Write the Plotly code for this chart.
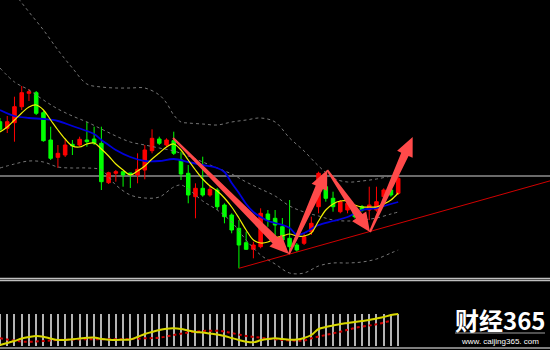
import math
import plotly.graph_objects as go

# ---------------- data (x = candle index, y = price units) ----------------
candle_idx = list(range(56))
open_ = [178.3, 171.7, 177.3, 193.3, 206.7, 207.3, 187.3, 160, 142.7, 145, 155.7, 155, 160, 161,
         156.7, 117.3, 126.7, 128.3, 127, 125, 130, 149.3, 161, 155, 159.3, 140, 126.7, 103.3,
         111.7, 105, 110, 95, 85, 71.7, 57.3, 50.7, 53.3, 86, 81.7, 73.3, 61.7, 55, 56.7, 68.3,
         93.3, 113.3, 101.7, 88.3, 90, 90, 93.3, 90, 90, 103.3, 110, 106.7]
high_ = [182, 184, 203.3, 214, 211, 209, 189, 173.3, 155, 160, 160, 163.3, 178.3, 173.3,
         173.3, 128.3, 130, 128.3, 127, 146.7, 155, 170.7, 163.3, 161.7, 168.3, 148.3, 135, 116.7,
         143.3, 115, 112, 96.7, 86.7, 80, 68.3, 58.3, 91.7, 90, 90, 82, 100, 57, 66.7, 83.3,
         128.3, 128.3, 108.3, 100, 98.3, 93.3, 95, 113.3, 113.3, 111.7, 113.3, 125]
low_ = [168, 167, 158.3, 190, 199, 185, 158.3, 140, 132, 143, 145, 153.3, 153.3, 155,
        110, 116, 118.3, 113.3, 112, 116.7, 120.7, 146.7, 155, 153.3, 145, 120, 96.7, 81.7,
        103.3, 103.3, 90, 76.7, 66.7, 31.7, 50, 41.7, 51.7, 73.3, 60, 53.3, 46.7, 48.3, 55, 65,
        86.7, 98.3, 88.3, 86.7, 86.7, 81.7, 88.3, 80, 88.3, 100, 103.3, 105]
close_ = [170.7, 178.3, 193.3, 207.3, 208.3, 186.7, 159.3, 141.7, 146.7, 155, 154, 160.7, 158.3, 157,
          118.3, 127.3, 128.3, 125, 125.3, 130.7, 150, 161.7, 156.7, 160, 146.7, 126, 105, 111.7,
          105, 110.7, 93.3, 83.3, 70, 55, 50.7, 55, 86.7, 80, 75, 60, 53.3, 50, 63.3, 76.7,
          126.7, 101.7, 93.3, 98.3, 96.7, 83.3, 90, 95, 98.3, 110, 105, 121.7]

# Bollinger bands (read at sample candles)
bb_upper_x = [0, 2, 4, 6, 8, 10, 12, 14, 16, 18, 20, 22, 23, 24, 25, 26, 28, 30, 32, 34, 36, 38,
              40, 42, 44, 46, 48, 50, 52, 54, 55]
bb_upper = [332, 307, 288, 270, 250, 232, 216, 213, 212, 212, 212, 205, 197, 185, 178, 177, 176,
            175, 178, 180, 182, 178, 162, 149, 134, 122, 118, 119, 121, 124, 126]
bb_mid_x = [0, 2, 4, 6, 8, 10, 12, 14, 16, 18, 20, 22, 24, 26, 28, 30, 32, 34, 36, 38, 40, 42,
            44, 46, 48, 50, 52, 54, 55]
bb_mid = [232, 218, 210, 200, 191, 184, 178, 171, 164, 158, 155, 152, 149, 144, 138, 132, 126,
          118, 111, 104, 94, 88, 84, 80, 79, 80, 82, 86, 88]
bb_lower_x = [0, 2, 4, 6, 8, 10, 12, 14, 16, 18, 20, 22, 24, 25, 26, 28, 30, 32, 34, 36, 38, 40,
              42, 44, 46, 48, 50, 52, 54, 55]
bb_lower = [132, 136, 139, 138, 133, 132, 132, 130, 115, 105, 102, 103, 113, 115, 111, 99, 90,
            78, 60, 45, 36, 27, 27, 34, 37, 37, 38, 41, 47, 50]

# moving averages
ma_blue_x = [0, 2, 4, 6, 8, 10, 12, 13, 14, 15, 16, 18, 20, 22, 24, 26, 28, 30, 31, 32, 33, 34,
             35, 36, 37, 38, 40, 41, 42, 43, 44, 46, 48, 50, 52, 54, 55]
ma_blue = [190, 184, 182, 181, 179, 174, 169, 166, 160, 155, 150, 143, 139, 139, 141, 138, 135,
           132, 128, 117, 107, 96, 88, 83, 79, 77, 72, 65, 67, 71, 75, 79, 83, 90, 92, 96, 98]
ma_yellow = [168, 173, 180, 187, 193, 195, 190, 180, 170, 161, 154, 153, 156, 157, 151, 144,
             136, 130, 125, 129, 134, 141, 147, 153, 156, 150, 140, 130, 121, 114, 109, 102,
             93, 82, 70, 60, 57, 58, 62, 64, 66, 64, 64, 67, 79, 90, 96, 99, 99, 95, 93, 93,
             93, 96, 100, 107]

# drawn objects
hline_level = 124
trend_x = [33, 76]
trend_y = [31.7, 119.2]
wave_x = [23.9, 39.9, 45.2, 51.1, 57.0]
wave_y = [162, 46, 130, 68, 163]

# lower indicator pane
hist_vals = [36, 36, 36, 36, 36, 36, 36, 36, 36, 36, 36, 36, 36, 36, 36, 36, 36, 36, 36, 36,
             36, 36, 36, 36, 36, 36, 36, 36, 36, 36, 36, 36, 36, 36, 36, 36, 36, 36, 36, 36,
             36, 36, 36, 36, 36, 36, 36, 36, 36, 36, 36, 36, 36, 36, 36, 36]
osc_yellow = [5, 7, 9, 11.5, 13, 14, 13.3, 11.5, 10, 10, 10.7, 11.5, 12.3, 12.5, 11, 10.3, 10,
              10.2, 10.5, 13, 16, 18, 20, 21.3, 21.7, 21, 19.5, 18, 17.5, 16.5, 15.5, 14, 12,
              10, 8.3, 7.7, 9.7, 11, 11.7, 11, 10.3, 10.5, 12, 15, 21, 23, 24.5, 26, 27, 28, 29,
              30, 31.5, 33, 35, 36]
osc_red_x = [0, 1, 2, 3, 4, 5, 6, 7, 8, 10, 12, 14, 16, 18, 20, 22, 24, 26, 28, 30, 31, 32, 34,
             36, 38, 39, 41, 42, 43, 45, 47, 49, 51, 52, 54]
osc_red = [11.7, 10.5, 9.5, 8.3, 8.3, 8.5, 9, 9.5, 10, 10.5, 10.7, 10.7, 10.7, 11, 11.7, 12.3,
           15, 17.5, 19, 19.3, 18.5, 17, 14, 12.3, 10.7, 10, 9.3, 9.5, 11.7, 15, 18.3, 22,
           24.5, 25.7, 29.3]

# ---------------- geometry of panes ----------------
X_MIN, X_MAX = 0.0, 550 / 7.24
SX = 550 / (X_MAX - X_MIN)      # pixels per candle
MAIN_RANGE = [24, 300]
LOW_RANGE = [2, 68]

fig = go.Figure()

band_style = dict(color="#767676", width=1, dash="3px,3px", shape="spline")
for bx, by in [(bb_upper_x, bb_upper), (bb_mid_x, bb_mid), (bb_lower_x, bb_lower)]:
    fig.add_trace(go.Scatter(x=bx, y=by, mode="lines", line=band_style,
                             xaxis="x", yaxis="y", hoverinfo="skip"))

fig.add_trace(go.Candlestick(
    x=candle_idx, open=open_, high=high_, low=low_, close=close_,
    increasing=dict(line=dict(color="#FF0000", width=1), fillcolor="#FF0000"),
    decreasing=dict(line=dict(color="#00FF00", width=1), fillcolor="#00FF00"),
    whiskerwidth=0, xaxis="x", yaxis="y"))

fig.add_trace(go.Scatter(x=ma_blue_x, y=ma_blue, mode="lines",
                         line=dict(color="#0000DC", width=1.8, shape="spline"),
                         xaxis="x", yaxis="y", hoverinfo="skip"))
fig.add_trace(go.Scatter(x=candle_idx, y=ma_yellow, mode="lines",
                         line=dict(color="#F0F000", width=1.2, shape="spline"),
                         xaxis="x", yaxis="y", hoverinfo="skip"))

fig.add_trace(go.Scatter(x=trend_x, y=trend_y, mode="lines",
                         line=dict(color="#D00000", width=1),
                         xaxis="x", yaxis="y", hoverinfo="skip"))

# lower pane
fig.add_trace(go.Bar(x=candle_idx, y=[v - 4 for v in hist_vals], base=4, width=0.28,
                     marker=dict(color="#B4B4B4", line=dict(width=0)),
                     xaxis="x2", yaxis="y2", hoverinfo="skip"))
fig.add_trace(go.Scatter(x=osc_red_x, y=osc_red, mode="lines",
                         line=dict(color="#D00000", width=2, dash="3px,3px", shape="spline"),
                         xaxis="x2", yaxis="y2", hoverinfo="skip"))
fig.add_trace(go.Scatter(x=candle_idx, y=osc_yellow, mode="lines",
                         line=dict(color="#D8D800", width=2, shape="spline"),
                         xaxis="x2", yaxis="y2", hoverinfo="skip"))


def arrow_path(xa, ya, xb, yb, w_tail=2.0, w_base=8.0, head_w=17.0, head_len=19.0):
    ax, ay = (xa - X_MIN) * SX, ya
    bx, by = (xb - X_MIN) * SX, yb
    dx, dy = bx - ax, by - ay
    L = math.hypot(dx, dy)
    ux, uy = dx / L, dy / L
    nx, ny = -uy, ux
    cx, cy = bx - ux * head_len, by - uy * head_len
    pts = [(ax + nx * w_tail / 2, ay + ny * w_tail / 2),
           (cx + nx * w_base / 2, cy + ny * w_base / 2),
           (cx + nx * head_w / 2, cy + ny * head_w / 2),
           (bx, by),
           (cx - nx * head_w / 2, cy - ny * head_w / 2),
           (cx - nx * w_base / 2, cy - ny * w_base / 2),
           (ax - nx * w_tail / 2, ay - ny * w_tail / 2)]
    return "M " + " L ".join(f"{px / SX + X_MIN:.4f},{py:.4f}" for px, py in pts) + " Z"


shapes = []
# horizontal level line
shapes.append(dict(type="line", xref="paper", yref="y", x0=0, x1=1, y0=hline_level, y1=hline_level,
                   line=dict(color="#6A6A6A", width=2), layer="below"))
# wave arrows
for i in range(len(wave_x) - 1):
    shapes.append(dict(type="path", xref="x", yref="y",
                       path=arrow_path(wave_x[i], wave_y[i], wave_x[i + 1], wave_y[i + 1]),
                       fillcolor="#FF4A4A", line=dict(width=0), layer="above"))
# pane separators
for yp, col in [((350 - 278.5) / 350, "#BEBEBE"), ((350 - 280.5) / 350, "#BEBEBE"),
                ((350 - 348) / 350, "#A8A8A8")]:
    shapes.append(dict(type="line", xref="paper", yref="paper", x0=0, x1=1, y0=yp, y1=yp,
                       line=dict(color=col, width=1.3), layer="above"))
# watermark underline
shapes.append(dict(type="line", xref="paper", yref="paper", x0=455 / 550, x1=545 / 550,
                   y0=(350 - 333) / 350, y1=(350 - 333) / 350,
                   line=dict(color="#A0A0A0", width=1), layer="above"))

annotations = [
    dict(text="<b>财经365</b>", xref="paper", yref="paper", x=500 / 550, y=(350 - 319.5) / 350,
         xanchor="center", yanchor="middle", showarrow=False,
         font=dict(family="Noto Sans CJK SC", size=24, color="#FFFFFF")),
    dict(text="www. caijing365. com", xref="paper", yref="paper", x=500 / 550, y=(350 - 341.5) / 350,
         xanchor="center", yanchor="middle", showarrow=False,
         font=dict(family="Liberation Sans", size=8, color="#FFFFFF")),
]

fig.update_layout(
    width=550, height=350, margin=dict(l=0, r=0, t=0, b=0, pad=0),
    paper_bgcolor="#000000", plot_bgcolor="#000000",
    showlegend=False, bargap=0,
    xaxis=dict(domain=[0, 1], range=[X_MIN, X_MAX], visible=False, showgrid=False,
               rangeslider=dict(visible=False), anchor="y"),
    yaxis=dict(domain=[74 / 350, 1], range=MAIN_RANGE, visible=False, showgrid=False, anchor="x"),
    xaxis2=dict(domain=[0, 1], range=[X_MIN, X_MAX], visible=False, showgrid=False,
                matches="x", anchor="y2"),
    yaxis2=dict(domain=[2 / 350, 68 / 350], range=LOW_RANGE, visible=False, showgrid=False,
                anchor="x2"),
    shapes=shapes, annotations=annotations,
)

fig.write_html("out.html")
